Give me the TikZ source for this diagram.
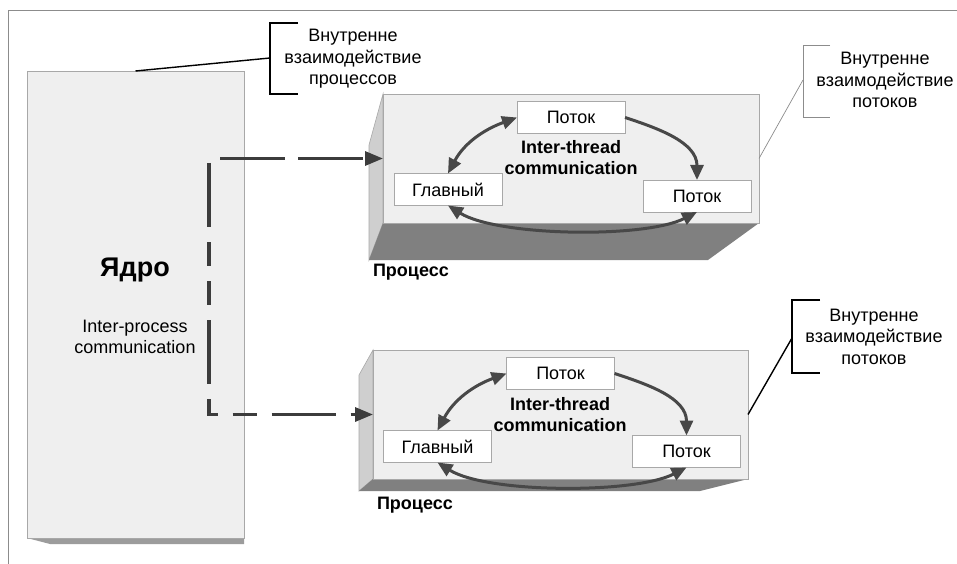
\documentclass[tikz,border=0pt]{standalone}
\usepackage{fontspec}
\setmainfont{Liberation Sans}
\usetikzlibrary{arrows.meta}
\definecolor{facefill}{HTML}{EFEFEF}
\definecolor{faceedge}{HTML}{A8A8A8}
\definecolor{sidefill}{HTML}{CFCFCF}
\definecolor{botfill}{HTML}{808080}
\definecolor{kshadow}{HTML}{9C9C9C}
\definecolor{arrowcol}{HTML}{484848}
\definecolor{dashcol}{HTML}{3C3C3C}
\definecolor{framecol}{HTML}{8C8C8C}
\begin{document}
\begin{tikzpicture}[x=1pt,y=-1pt,
  txt/.style={font=\fontsize{18}{21.5}\selectfont, inner sep=0pt, outer sep=0pt, align=center},
  boldtxt/.style={font=\fontsize{18}{21.5}\selectfont\bfseries, inner sep=0pt, outer sep=0pt, align=center},
  face/.style={draw=faceedge, fill=facefill, line width=0.8pt, inner sep=0pt, outer sep=0pt},
  side/.style={draw=faceedge, fill=sidefill, line width=0.6pt},
  bottom/.style={fill=botfill},
  thread/.style={draw=faceedge, fill=white, line width=0.8pt, minimum width=108pt, minimum height=32pt, inner sep=0pt, outer sep=0pt, font=\fontsize{18}{21.5}\selectfont},
  flow/.style={draw=arrowcol, line width=3pt, -{Triangle[length=15pt,width=13pt]}},
  flowboth/.style={draw=arrowcol, line width=3pt, {Triangle[length=15pt,width=13pt]}-{Triangle[length=15pt,width=13pt]}},
  dashconn/.style={draw=dashcol, line width=3.2pt, -{Triangle[length=18pt,width=14pt]}},
  bracket/.style={draw=black, line width=1.4pt},
  thinbracket/.style={draw=framecol, line width=0.7pt}
]
\useasboundingbox (0,0) rectangle (957,564);
\fill[white] (0,0) rectangle (957,564);

% frame
\draw[framecol, line width=1pt] (8,564) -- (8,11) -- (957,11);

% kernel
\fill[kshadow] (27,538) -- (50,544) -- (244,544) -- (244,538) -- cycle;
\node[face, minimum width=217pt, minimum height=467pt] (kernel) at (135.5,304.5) {};
\node[boldtxt, font=\fontsize{27}{30}\selectfont\bfseries, anchor=base] (kname) at (135,276) {Ядро};
\node[txt] (ipc) at (135,337) {Inter-process\\communication};

% process 1
\filldraw[side] (383,94) -- (369,145) -- (369,260) -- (383,223) -- cycle;
\fill[bottom] (383,223) -- (369,260) -- (708,260) -- (759,223) -- cycle;
\node[face, minimum width=376pt, minimum height=129pt] (p1) at (571,158.5) {};
\node[boldtxt, anchor=base west] (p1lab) at (373,276) {Процесс};
\node[thread] (t1a) at (571,117.5) {Поток};
\node[thread] (g1) at (448,189.5) {Главный};
\node[thread] (t1b) at (697,196) {Поток};
\node[boldtxt] (itc1) at (571,157.5) {Inter-thread\\communication};
\draw[flowboth] (g1.north) to[out=62,in=200] (t1a.west);
\draw[flow] (t1a.east) to[out=-18,in=90] (t1b.north);
\draw[flowboth] (g1.south) to[out=-32,in=207,looseness=0.6] (t1b.south);

% process 2
\filldraw[side] (373,350) -- (359,375) -- (359,491) -- (373,479) -- cycle;
\fill[bottom] (373,479) -- (359,491) -- (700,491) -- (748,479) -- cycle;
\node[face, minimum width=375pt, minimum height=129pt] (p2) at (560.5,414.5) {};
\node[boldtxt, anchor=base west] (p2lab) at (377,509) {Процесс};
\node[thread] (t2a) at (560.5,373.5) {Поток};
\node[thread] (g2) at (437.5,446.5) {Главный};
\node[thread] (t2b) at (686.5,451.5) {Поток};
\node[boldtxt] (itc2) at (560,414.5) {Inter-thread\\communication};
\draw[flowboth] (g2.north) to[out=62,in=200] (t2a.west);
\draw[flow] (t2a.east) to[out=-18,in=90] (t2b.north);
\draw[flowboth] (g2.south) to[out=-32,in=207,looseness=0.6] (t2b.south);

% dashed inter-process connectors
\coordinate (k1) at (220,158.5);
\coordinate (k2) at (209,163);
\draw[dashconn, dash pattern=on 65pt off 13pt] (k1) -- (p1.west);
\draw[dashconn, dash pattern=on 64pt off 15pt on 24pt off 15pt on 24pt off 15pt] (k2) |- (p2.west);

% callout 1
\node[txt] (c1) at (353,59) {Внутренне\\взаимодействие\\процессов};
\draw[bracket] (298,23) -- (270,23) -- (270,94) -- (298,94);
\coordinate (c1m) at (270,58);
\draw[bracket] (c1m) -- (kernel.north);

% callout 2
\node[txt] (c2) at (885,80) {Внутренне\\взаимодействие\\потоков};
\draw[thinbracket] (830,45) -- (803,45) -- (803,117) -- (830,117);
\coordinate (c2m) at (803,80);
\draw[thinbracket] (c2m) -- (p1.east);

% callout 3
\node[txt] (c3) at (874,336.5) {Внутренне\\взаимодействие\\потоков};
\draw[bracket] (820,300) -- (792,300) -- (792,373) -- (820,373);
\coordinate (c3m) at (792,338);
\draw[bracket] (c3m) -- (p2.east);
\end{tikzpicture}
\end{document}
